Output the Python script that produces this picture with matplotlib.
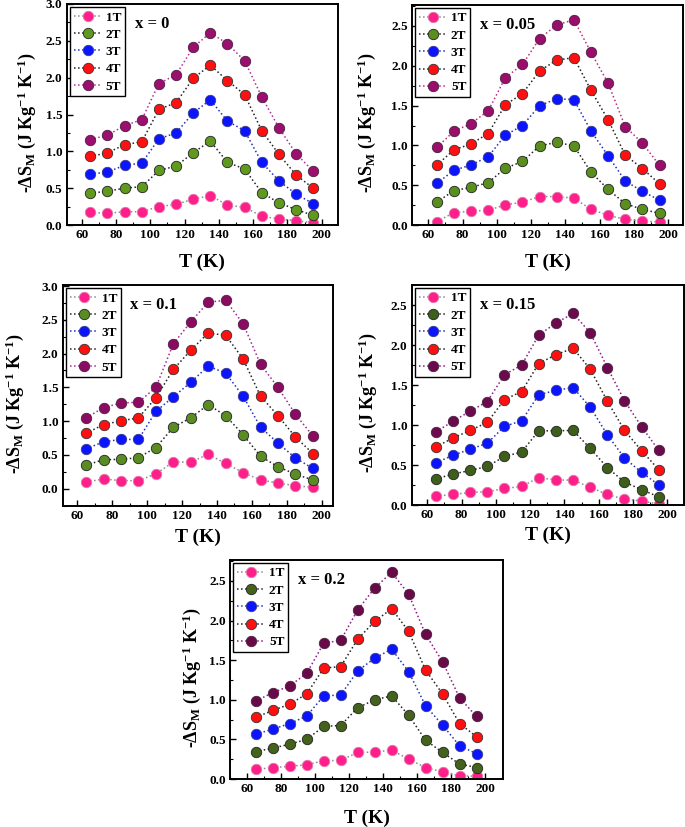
import numpy as np
import matplotlib
matplotlib.use("Agg")
import matplotlib.pyplot as plt
from matplotlib.ticker import MultipleLocator

plt.rcParams['font.family'] = ['Liberation Serif', 'DejaVu Serif']
plt.rcParams['font.weight'] = 'bold'
plt.rcParams['mathtext.fontset'] = 'custom'
plt.rcParams['mathtext.rm'] = 'Liberation Serif:bold'
plt.rcParams['mathtext.it'] = 'Liberation Serif:bold:italic'
plt.rcParams['mathtext.bf'] = 'Liberation Serif:bold'

# temperature points (K)
temps = [65, 75, 85, 95, 105, 115, 125, 135, 145, 155, 165, 175, 185, 195]
fields = ['1T', '2T', '3T', '4T', '5T']
panel_labels = ['x = 0', 'x = 0.05', 'x = 0.1', 'x = 0.15', 'x = 0.2']

# -dS_M values, one list per field (1T..5T)
dsm_x0 = [
    [0.17, 0.16, 0.18, 0.18, 0.25, 0.28, 0.35, 0.40, 0.27, 0.24, 0.12, 0.08, 0.06, 0.03],
    [0.43, 0.46, 0.50, 0.52, 0.74, 0.80, 0.98, 1.14, 0.85, 0.76, 0.44, 0.30, 0.21, 0.13],
    [0.69, 0.72, 0.81, 0.84, 1.17, 1.25, 1.52, 1.70, 1.41, 1.28, 0.85, 0.60, 0.42, 0.29],
    [0.93, 0.98, 1.09, 1.13, 1.57, 1.66, 1.99, 2.17, 1.96, 1.77, 1.28, 0.96, 0.68, 0.50],
    [1.16, 1.22, 1.35, 1.43, 1.92, 2.04, 2.41, 2.61, 2.46, 2.23, 1.74, 1.32, 0.97, 0.73],
]
dsm_x005 = [
    [0.045, 0.16, 0.175, 0.19, 0.255, 0.29, 0.36, 0.36, 0.34, 0.20, 0.125, 0.075, 0.055, 0.04],
    [0.29, 0.435, 0.475, 0.535, 0.715, 0.80, 0.995, 1.04, 0.995, 0.665, 0.45, 0.27, 0.20, 0.15],
    [0.525, 0.69, 0.755, 0.86, 1.13, 1.25, 1.50, 1.585, 1.575, 1.18, 0.87, 0.555, 0.425, 0.315],
    [0.755, 0.945, 1.02, 1.15, 1.51, 1.65, 1.935, 2.07, 2.10, 1.69, 1.32, 0.88, 0.71, 0.52],
    [0.975, 1.18, 1.275, 1.435, 1.85, 2.015, 2.34, 2.51, 2.575, 2.165, 1.78, 1.235, 1.03, 0.75],
]
dsm_x01 = [
    [0.10, 0.145, 0.12, 0.12, 0.22, 0.395, 0.395, 0.51, 0.375, 0.24, 0.13, 0.085, 0.045, 0.02],
    [0.35, 0.43, 0.435, 0.46, 0.61, 0.91, 1.05, 1.245, 1.08, 0.80, 0.48, 0.325, 0.215, 0.13],
    [0.59, 0.695, 0.73, 0.73, 1.145, 1.36, 1.575, 1.815, 1.71, 1.37, 0.91, 0.675, 0.455, 0.30],
    [0.82, 0.95, 1.005, 1.05, 1.345, 1.765, 2.05, 2.305, 2.27, 1.92, 1.37, 1.08, 0.765, 0.52],
    [1.05, 1.20, 1.27, 1.28, 1.50, 2.145, 2.47, 2.76, 2.79, 2.44, 1.84, 1.50, 1.10, 0.78],
]
dsm_x015 = [
    [0.115, 0.135, 0.16, 0.17, 0.21, 0.235, 0.345, 0.315, 0.315, 0.225, 0.135, 0.075, 0.055, 0.015],
    [0.33, 0.39, 0.435, 0.485, 0.61, 0.665, 0.93, 0.93, 0.935, 0.71, 0.47, 0.29, 0.195, 0.105],
    [0.53, 0.625, 0.70, 0.775, 0.985, 1.055, 1.38, 1.435, 1.47, 1.225, 0.88, 0.59, 0.41, 0.255],
    [0.73, 0.84, 0.935, 1.035, 1.32, 1.42, 1.77, 1.88, 1.96, 1.70, 1.30, 0.935, 0.68, 0.445],
    [0.915, 1.05, 1.175, 1.295, 1.63, 1.75, 2.125, 2.275, 2.395, 2.155, 1.72, 1.305, 0.98, 0.685],
]
dsm_x02 = [
    [0.12, 0.145, 0.16, 0.18, 0.23, 0.235, 0.335, 0.34, 0.365, 0.25, 0.145, 0.09, 0.04, 0.035],
    [0.345, 0.39, 0.44, 0.50, 0.665, 0.675, 0.90, 1.00, 1.05, 0.805, 0.49, 0.335, 0.19, 0.145],
    [0.565, 0.63, 0.70, 0.795, 1.05, 1.06, 1.365, 1.525, 1.64, 1.355, 0.925, 0.68, 0.42, 0.32],
    [0.78, 0.865, 0.945, 1.075, 1.40, 1.42, 1.765, 1.99, 2.15, 1.865, 1.375, 1.075, 0.70, 0.535],
    [0.985, 1.09, 1.175, 1.335, 1.715, 1.75, 2.135, 2.41, 2.61, 2.335, 1.825, 1.48, 1.025, 0.79],
]
panels = [dsm_x0, dsm_x005, dsm_x01, dsm_x015, dsm_x02]

# layout in pixels: left, right, top, bottom of each frame
W, H = 685, 827
frames = [(66.7, 338, 4, 225), (412, 683, 5, 225.3), (62.7, 333, 285, 506),
          (411.7, 684, 285, 505.3), (230, 503, 560, 779)]
xlims = [(51.2, 209.5), (50.5, 208.7), (51.6, 206.5), (50.9, 209.7), (49.8, 210.6)]
ylims = [(0, 3.0), (0, 2.76), (-0.255, 3.015), (0, 2.75), (0, 2.765)]
ymax_tick = [3.0, 2.5, 3.0, 2.5, 2.5]
ylab_off = [40, 45, 48, 44, 38]
xlab_off = [37, 37, 31, 30, 39]

greens = ['#5f9a1f', '#5a8f1e', '#5a8c23', '#3e5e1c', '#44621c']
purples = ['#9b0f6e', '#9a0d6b', '#8c0b62', '#6b0b4d', '#690a48']
line_purple = ['#b0309c', '#c02a80', '#a0289a', '#8a1a8a', '#8a1a8a']

fig = plt.figure(figsize=(W / 100, H / 100), dpi=100)

for i, data in enumerate(panels):
    l, r, t, b = frames[i]
    ax = fig.add_axes([l / W, 1 - b / H, (r - l) / W, (b - t) / H])
    faces = ['#ff1f8a', greens[i], '#0a14ff', '#ff1010', purples[i]]
    lines = ['#8a8a8a', '#222222', '#2030c0', '#222222', line_purple[i]]
    edges = ['#e07aa8', '#222222', '#3a3a8a', '#333333', '#4a2040']
    for k, vals in enumerate(data):
        ax.plot(temps, vals, linestyle=':', color=lines[k], lw=1.1,
                marker='o', ms=7.5, mfc=faces[k], mec=edges[k], mew=0.6,
                label=fields[k])
    ax.set_xlim(*xlims[i])
    ax.set_ylim(*ylims[i])
    ax.set_xticks(np.arange(60, 201, 20))
    ax.set_yticks(np.arange(0, ymax_tick[i] + 0.01, 0.5))
    ax.xaxis.set_minor_locator(MultipleLocator(10))
    ax.yaxis.set_minor_locator(MultipleLocator(0.25))
    ax.yaxis.set_major_formatter(matplotlib.ticker.FormatStrFormatter('%.1f'))
    ax.tick_params(which='major', direction='in', length=4, width=1.0,
                   labelsize=9.5, top=False, right=False, pad=3)
    ax.tick_params(which='minor', direction='in', length=2, width=0.8,
                   top=False, right=False)
    for s in ax.spines.values():
        s.set_linewidth(1.4)
    for lab in ax.get_xticklabels() + ax.get_yticklabels():
        lab.set_fontweight('bold')

    ax.set_xlabel('T (K)', fontsize=14, fontweight='bold')
    ax.xaxis.label.set_va('center')
    ax.xaxis.set_label_coords(0.5, -xlab_off[i] / (b - t))
    ax.set_ylabel(r'-$\Delta$S$_\mathrm{M}$ (J Kg$^\mathrm{-1}$ K$^\mathrm{-1}$)',
                  fontsize=13, fontweight='bold')
    ax.yaxis.label.set_va('center')
    ax.yaxis.set_label_coords(-ylab_off[i] / (r - l), 0.464)

    ax.text(0.25, 0.91, panel_labels[i], transform=ax.transAxes,
            fontsize=12, fontweight='bold', va='center', ha='left')

    leg = ax.legend(loc='upper left', bbox_to_anchor=(0.012, 0.985),
                    borderaxespad=0, fontsize=9.5, handlelength=2.1,
                    handletextpad=0.3, labelspacing=0.38, borderpad=0.3,
                    fancybox=False, framealpha=1, edgecolor='black')
    leg.get_frame().set_linewidth(1.0)
    for txt in leg.get_texts():
        txt.set_fontweight('bold')

fig.savefig('out.png', dpi=100)
